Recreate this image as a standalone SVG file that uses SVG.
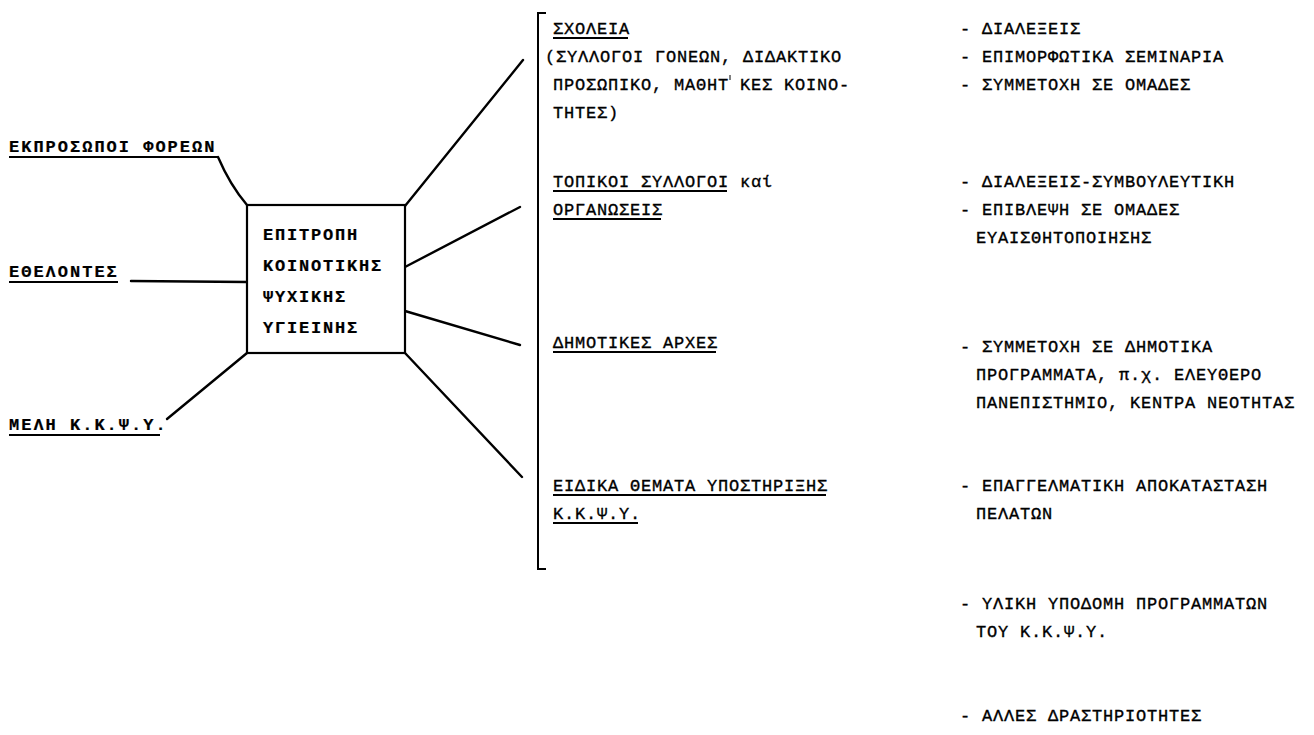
<svg xmlns="http://www.w3.org/2000/svg" width="1314" height="735" viewBox="0 0 1314 735">
<style>
  text { font-family: "Liberation Mono", "DejaVu Sans Mono", monospace; font-size: 17px; fill: #000; stroke: #000; stroke-width: 0.35px; }
  .t { letter-spacing: 0.8px; }
  .lft { font-size: 17px; letter-spacing: 2px; font-weight: bold; stroke-width: 0.2px; }
  .box { font-size: 17px; letter-spacing: 1.8px; font-weight: bold; stroke-width: 0.2px; }
  .ul { stroke: #000; stroke-width: 1.8; }
  .conn { stroke: #000; stroke-width: 2.4; fill: none; stroke-linecap: round; }
  .frame { stroke: #000; stroke-width: 2.2; fill: #fff; }
</style>
<rect width="1314" height="735" fill="#fff"/>

<g id="connectors">
  <path class="conn" d="M218,157 Q230,185 247,205"/>
  <line class="conn" x1="131" y1="281" x2="247" y2="282"/>
  <line class="conn" x1="167" y1="419" x2="247" y2="353"/>
  <line class="conn" x1="405" y1="206" x2="523" y2="60"/>
  <line class="conn" x1="405" y1="267" x2="520" y2="207"/>
  <line class="conn" x1="405" y1="311" x2="520" y2="345"/>
  <line class="conn" x1="405" y1="353" x2="522" y2="477"/>
</g>

<g id="bracket">
  <path d="M546,13 L538,13 L538,569 L546,569" stroke="#000" stroke-width="2" fill="none"/>
</g>

<g id="committee">
  <rect class="frame" x="247" y="205" width="158" height="148"/>
  <text class="box" x="263" y="240">ΕΠΙΤΡΟΠΗ</text>
  <text class="box" x="263" y="271">ΚΟΙΝΟΤΙΚΗΣ</text>
  <text class="box" x="263" y="302">ΨΥΧΙΚΗΣ</text>
  <text class="box" x="263" y="333">ΥΓΙΕΙΝΗΣ</text>
</g>

<g id="ekprosopoi">
  <text class="lft" x="9" y="152">ΕΚΠΡΟΣΩΠΟΙ ΦΟΡΕΩΝ</text>
  <line class="ul" x1="9" y1="157" x2="218" y2="157"/>
</g>
<g id="ethelontes">
  <text class="lft" x="9" y="277">ΕΘΕΛΟΝΤΕΣ</text>
  <line class="ul" x1="9" y1="282" x2="118" y2="282"/>
</g>
<g id="meli">
  <text class="lft" x="9" y="430">ΜΕΛΗ Κ.Κ.Ψ.Υ.</text>
  <line class="ul" x1="9" y1="435" x2="160" y2="435"/>
</g>

<g id="scholeia">
  <text class="t" x="553" y="34">ΣΧΟΛΕΙΑ</text>
  <line class="ul" x1="553" y1="38" x2="628" y2="38"/>
  <text class="t" x="545" y="62">(ΣΥΛΛΟΓΟΙ ΓΟΝΕΩΝ, ΔΙΔΑΚΤΙΚΟ</text>
  <text class="t" x="553" y="90">ΠΡΟΣΩΠΙΚΟ, ΜΑΘΗΤ ΚΕΣ ΚΟΙΝΟ-</text>
  <line x1="730" y1="75" x2="730" y2="80" stroke="#000" stroke-width="1"/>
  <text class="t" x="553" y="118">ΤΗΤΕΣ)</text>
</g>
<g id="topikoi">
  <text class="t" x="553" y="187">ΤΟΠΙΚΟΙ ΣΥΛΛΟΓΟΙ καί</text>
  <line class="ul" x1="553" y1="191" x2="727" y2="191"/>
  <text class="t" x="553" y="215">ΟΡΓΑΝΩΣΕΙΣ</text>
  <line class="ul" x1="553" y1="219" x2="661" y2="219"/>
</g>
<g id="dimotikes">
  <text class="t" x="553" y="348">ΔΗΜΟΤΙΚΕΣ ΑΡΧΕΣ</text>
  <line class="ul" x1="553" y1="352" x2="716" y2="352"/>
</g>
<g id="eidika">
  <text class="t" x="553" y="491">ΕΙΔΙΚΑ ΘΕΜΑΤΑ ΥΠΟΣΤΗΡΙΞΗΣ</text>
  <line class="ul" x1="553" y1="495" x2="826" y2="495"/>
  <text class="t" x="553" y="519">Κ.Κ.Ψ.Υ.</text>
  <line class="ul" x1="553" y1="523" x2="638" y2="523"/>
</g>

<g id="activities">
  <text class="t" x="960" y="34">- ΔΙΑΛΕΞΕΙΣ</text>
  <text class="t" x="960" y="62">- ΕΠΙΜΟΡΦΩΤΙΚΑ ΣΕΜΙΝΑΡΙΑ</text>
  <text class="t" x="960" y="90">- ΣΥΜΜΕΤΟΧΗ ΣΕ ΟΜΑΔΕΣ</text>
  <text class="t" x="960" y="187">- ΔΙΑΛΕΞΕΙΣ-ΣΥΜΒΟΥΛΕΥΤΙΚΗ</text>
  <text class="t" x="960" y="215">- ΕΠΙΒΛΕΨΗ ΣΕ ΟΜΑΔΕΣ</text>
  <text class="t" x="976" y="243">ΕΥΑΙΣΘΗΤΟΠΟΙΗΣΗΣ</text>
  <text class="t" x="960" y="352">- ΣΥΜΜΕΤΟΧΗ ΣΕ ΔΗΜΟΤΙΚΑ</text>
  <text class="t" x="976" y="380">ΠΡΟΓΡΑΜΜΑΤΑ, π.χ. ΕΛΕΥΘΕΡΟ</text>
  <text class="t" x="976" y="408">ΠΑΝΕΠΙΣΤΗΜΙΟ, ΚΕΝΤΡΑ ΝΕΟΤΗΤΑΣ</text>
  <text class="t" x="960" y="491">- ΕΠΑΓΓΕΛΜΑΤΙΚΗ ΑΠΟΚΑΤΑΣΤΑΣΗ</text>
  <text class="t" x="976" y="519">ΠΕΛΑΤΩΝ</text>
  <text class="t" x="960" y="609">- ΥΛΙΚΗ ΥΠΟΔΟΜΗ ΠΡΟΓΡΑΜΜΑΤΩΝ</text>
  <text class="t" x="976" y="637">ΤΟΥ Κ.Κ.Ψ.Υ.</text>
  <text class="t" x="960" y="721">- ΑΛΛΕΣ ΔΡΑΣΤΗΡΙΟΤΗΤΕΣ</text>
</g>
</svg>
